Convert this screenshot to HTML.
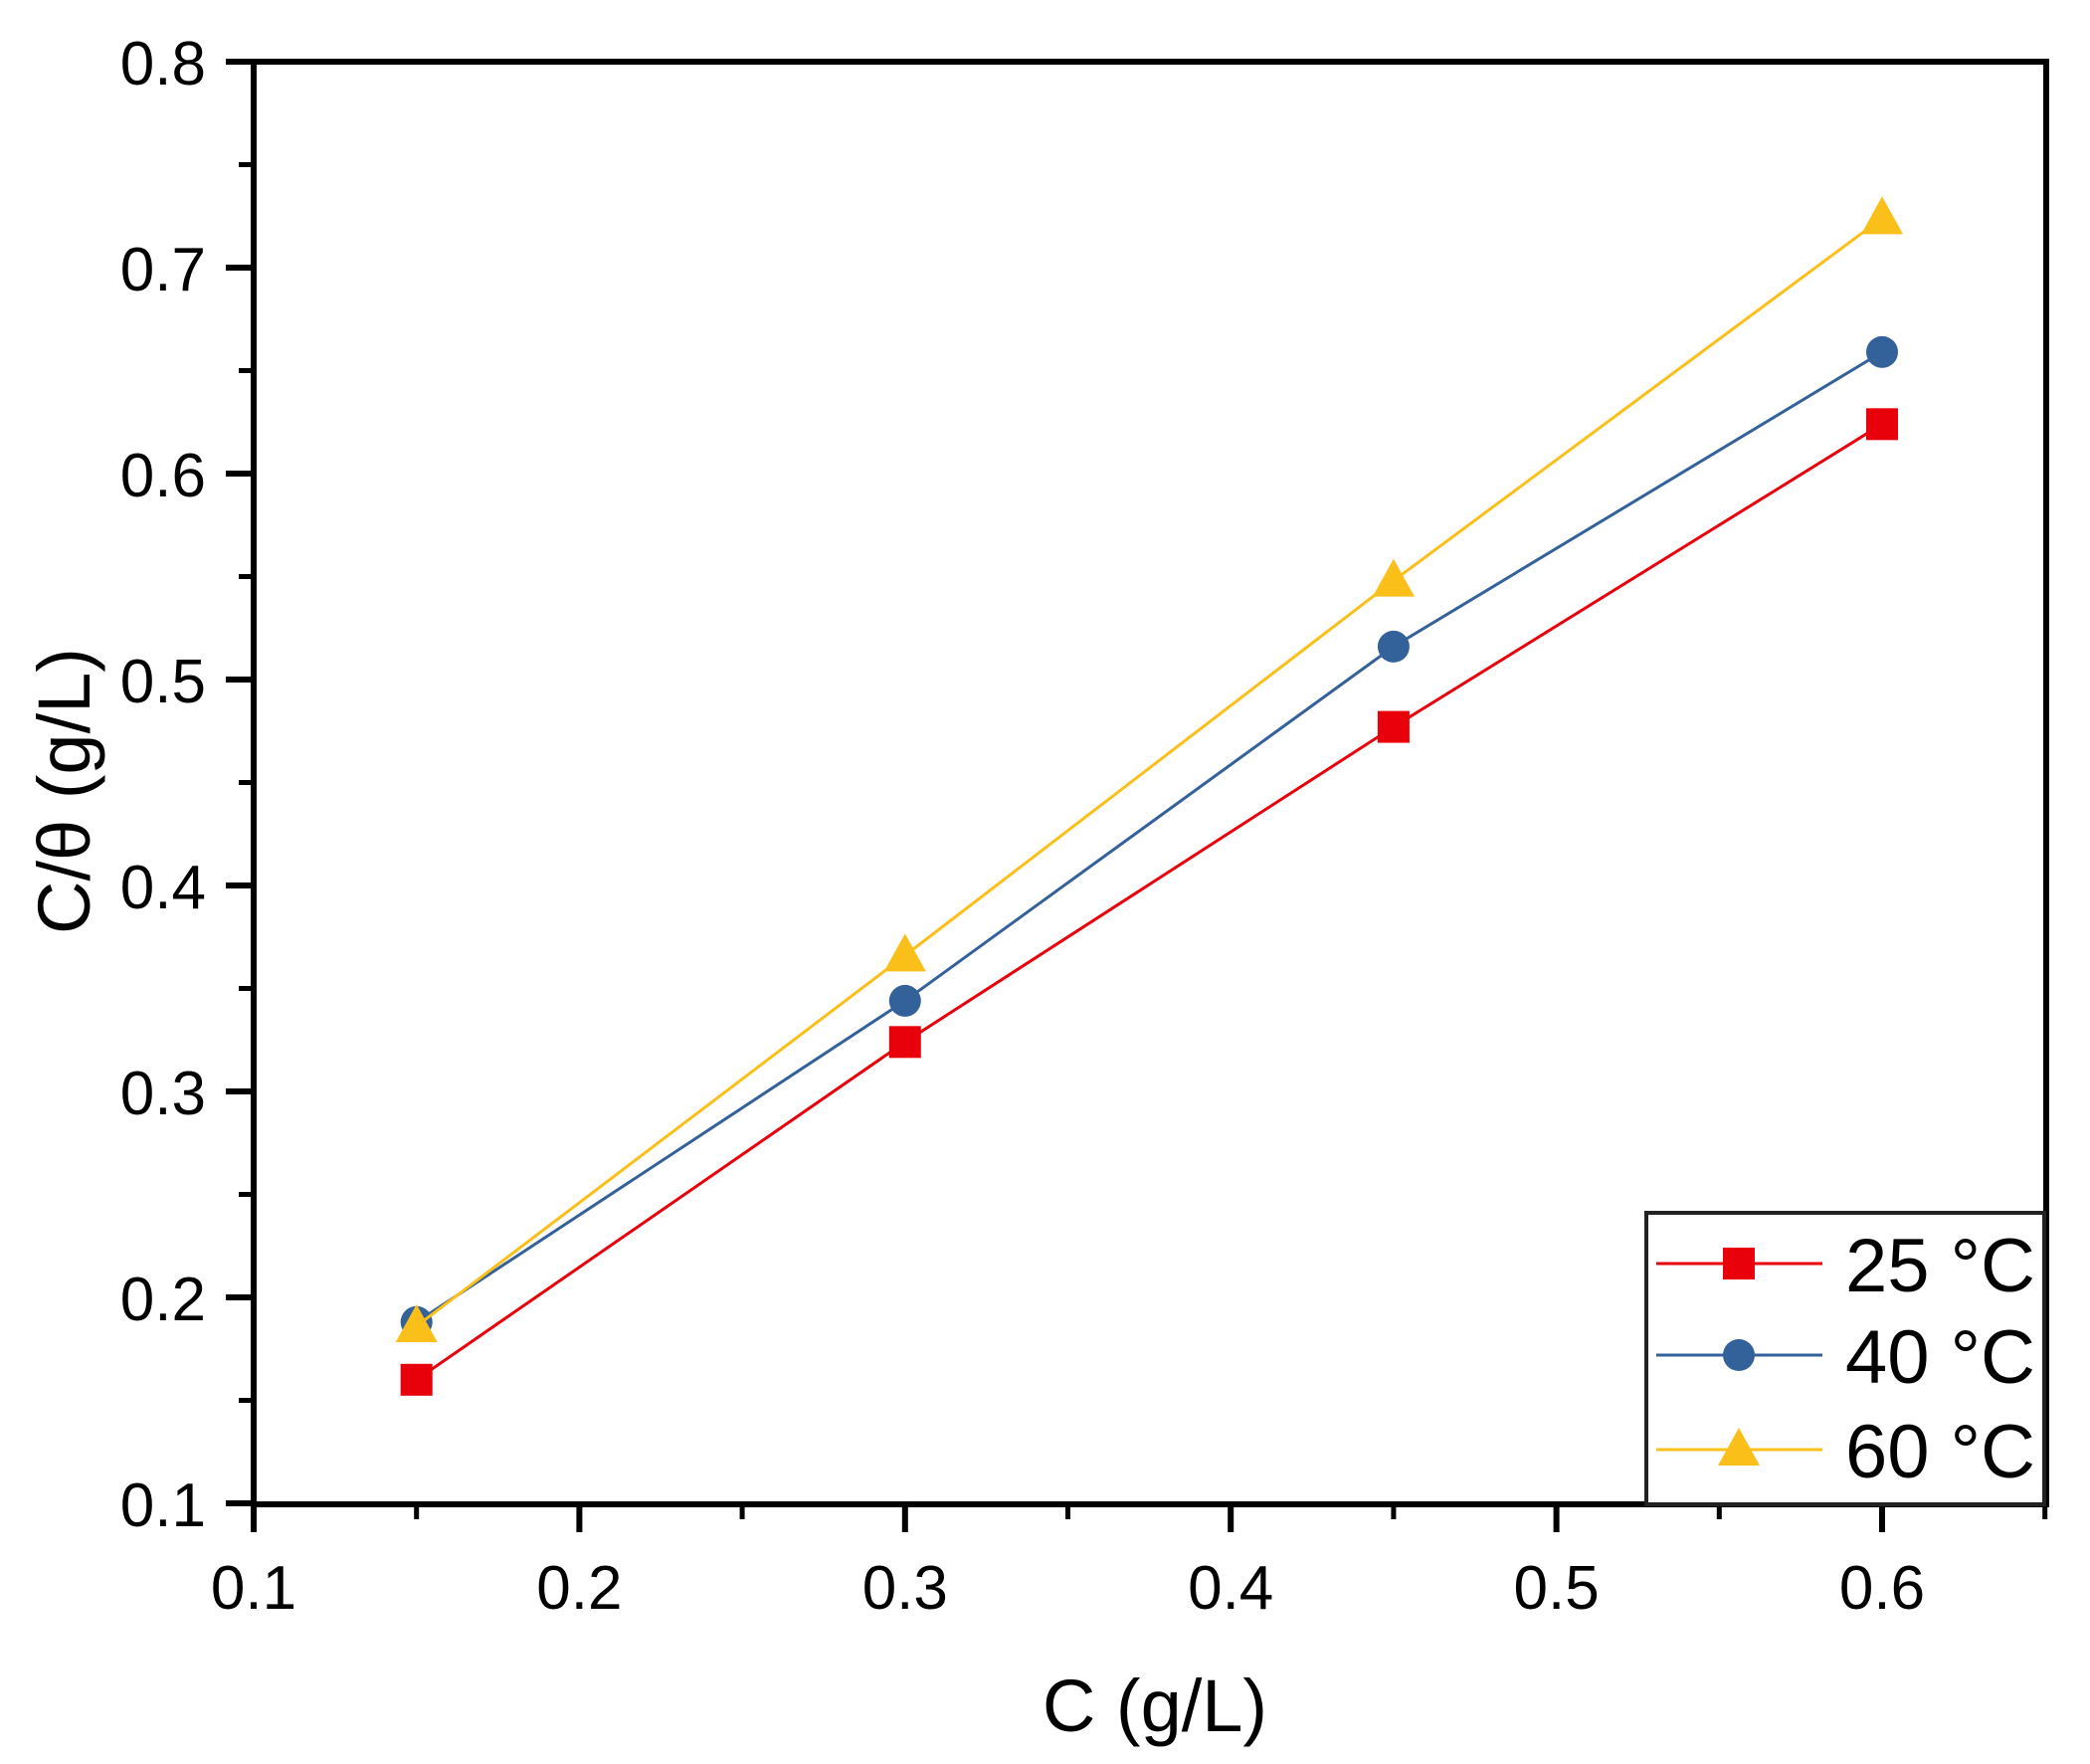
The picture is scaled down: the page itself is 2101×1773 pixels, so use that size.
<!DOCTYPE html>
<html><head><meta charset="utf-8"><style>
html,body{margin:0;padding:0;background:#fff;}
svg{display:block;}
text{font-family:"Liberation Sans",Arial,sans-serif;fill:#000;}
</style></head><body>
<svg id="chart" width="2101" height="1773" viewBox="0 0 2101 1773" xmlns="http://www.w3.org/2000/svg"></svg>
<script>
const xCats = [0.15, 0.30, 0.45, 0.60];
const s25 = [0.160, 0.324, 0.477, 0.624];
const s40 = [0.188, 0.344, 0.516, 0.659];
const s60 = [0.186, 0.366, 0.548, 0.724];
const xTicks = ['0.1','0.2','0.3','0.4','0.5','0.6'];
const yTicks = ['0.1','0.2','0.3','0.4','0.5','0.6','0.7','0.8'];
const seriesNames = ['25 °C','40 °C','60 °C'];

const NS='http://www.w3.org/2000/svg';
const svg=document.getElementById('chart');
const L=255,R=2057,T=62,B=1512;
function xs(v){return L+(v-0.1)*3274;}
function ys(v){return T+(0.8-v)*2070;}
function mk(tag,attrs,parent){const e=document.createElementNS(NS,tag);for(const k in attrs)e.setAttribute(k,attrs[k]);(parent||svg).appendChild(e);return e;}

// ticks
for(let i=0;i<xTicks.length;i++){
  const v=parseFloat(xTicks[i]);const x=xs(v);
  const t=mk('line',{x1:x,y1:B,x2:x,y2:B+28,stroke:'#000','stroke-width':6});
  
  
  const lb=mk('text',{x:x,y:B+105,'font-size':62,'text-anchor':'middle'});
  lb.textContent=xTicks[i];
  
  
  const xm=xs(v+0.05);
  if(v+0.05<0.66){
    const m=mk('line',{x1:xm,y1:B,x2:xm,y2:B+15,stroke:'#000','stroke-width':5});
    
    
  }
}
for(let i=0;i<yTicks.length;i++){
  const v=parseFloat(yTicks[i]);const y=ys(v);
  const t=mk('line',{x1:L-28,y1:y,x2:L,y2:y,stroke:'#000','stroke-width':6});
  
  
  const lb=mk('text',{x:207,y:y+23,'font-size':62,'text-anchor':'end'});
  lb.textContent=yTicks[i];
  
  
  if(v<0.8){
    const ym=ys(v+0.05);
    const m=mk('line',{x1:L-15,y1:ym,x2:L,y2:ym,stroke:'#000','stroke-width':5});
    
    
  }
}

// axes frame
const fr=mk('rect',{x:L,y:T,width:R-L,height:B-T,fill:'none',stroke:'#000','stroke-width':6});



// series
const series=[[s25,'#e8000b','square'],[s40,'#33619a','circle'],[s60,'#fbbf1a','triangle']];
function marker(kind,x,y,color,name){
  let m;
  if(kind==='square')m=mk('rect',{x:x-16,y:y-16,width:32,height:32,fill:color});
  else if(kind==='circle')m=mk('circle',{cx:x,cy:y,r:16,fill:color});
  else m=mk('polygon',{points:`${x},${y-22} ${x+21},${y+16} ${x-21},${y+16}`,fill:color});
  
  
}
series.forEach((s,si)=>{
  const pts=xCats.map((c,i)=>xs(c)+','+ys(s[0][i])).join(' ');
  const pl=mk('polyline',{points:pts,fill:'none',stroke:s[1],'stroke-width':3});
  
  
  xCats.forEach((c,i)=>marker(s[2],xs(c),ys(s[0][i]),s[1],'data-point'));
});

// legend
const lg=mk('rect',{x:1655,y:1219,width:400,height:293,fill:'#fff',stroke:'#222','stroke-width':4});


const rowsY=[1270,1362,1457];
series.forEach((s,si)=>{
  const y=rowsY[si];
  const ln=mk('line',{x1:1665,y1:y,x2:1832,y2:y,stroke:s[1],'stroke-width':3});
  
  
  marker(s[2],1748,y,s[1],'legend-marker');
  const tx=mk('text',{x:1855,y:y+28,'font-size':76});
  tx.textContent=seriesNames[si];
  
  
});

// titles
const xt=mk('text',{x:1161,y:1740,'font-size':74,'text-anchor':'middle'});
xt.textContent='C (g/L)';


const yt=mk('text',{x:0,y:0,'font-size':74,'text-anchor':'middle',transform:'translate(90,795) rotate(-90)'});
yt.textContent='C/θ (g/L)';


</script>
</body></html>
